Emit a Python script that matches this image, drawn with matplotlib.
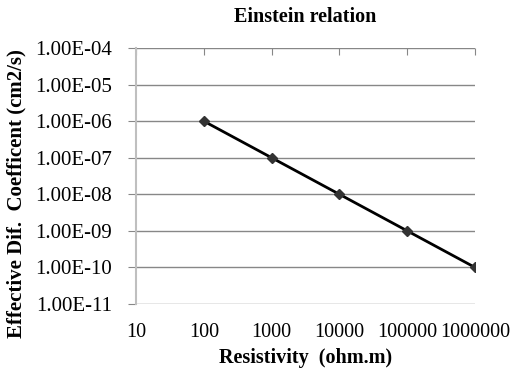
import numpy as np
import matplotlib.pyplot as plt
from matplotlib.ticker import FuncFormatter, FixedLocator, NullLocator

plt.rcParams['font.family'] = ['Liberation Serif', 'DejaVu Serif']

resistivity = [100, 1000, 10000, 100000, 1000000]
diff_coef = [1e-6, 1e-7, 1e-8, 1e-9, 1e-10]

x_ticks = [10, 100, 1000, 10000, 100000, 1000000]
y_ticks = [1e-11, 1e-10, 1e-9, 1e-8, 1e-7, 1e-6, 1e-5, 1e-4]

fig = plt.figure(figsize=(5.2, 3.76), dpi=100)
ax = fig.add_axes([136/520, 1 - 304/376, (475-136)/520, (304-48)/376])

ax.plot(resistivity, diff_coef, color='black', lw=2, marker='D',
        markersize=5.5, markerfacecolor='#333333', markeredgecolor='#333333', zorder=3)

ax.set_xscale('log')
ax.set_yscale('log')
ax.set_xlim(10, 1000000)
ax.set_ylim(1e-11, 1e-4)

ax.xaxis.set_major_locator(FixedLocator(x_ticks))
ax.xaxis.set_minor_locator(NullLocator())
ax.yaxis.set_major_locator(FixedLocator(y_ticks))
ax.yaxis.set_minor_locator(NullLocator())
ax.xaxis.set_major_formatter(FuncFormatter(lambda v, p: '%d' % round(v)))

def sci(v, p):
    e = int(round(np.log10(v)))
    return '1.00E%s%02d' % ('-' if e < 0 else '+', abs(e))
ax.yaxis.set_major_formatter(FuncFormatter(sci))

ax.grid(True, axis='y', color='#878787', lw=1)
ax.set_axisbelow(True)

for s in ['right', 'bottom', 'top']:
    ax.spines[s].set_visible(False)
ax.spines['left'].set_color('#bfbfbf')
ax.spines['left'].set_linewidth(1.5)

ax.tick_params(axis='x', top=True, bottom=False, labeltop=False, labelbottom=True,
               direction='in', length=5, color='#878787', labelsize=14.5, pad=14)
ax.tick_params(axis='y', direction='out', length=6, color='#878787', labelsize=15, pad=11)

ax.set_title('Einstein relation', fontsize=14.5, fontweight='bold', pad=19)
ax.set_xlabel('Resistivity  (ohm.m)', fontsize=14.5, fontweight='bold', labelpad=4)
ax.set_ylabel('Effective Dif.  Coefficent (cm2/s)', fontsize=15, fontweight='bold')
ax.yaxis.set_label_coords(-0.322, 0.43)

fig.savefig('out.png', dpi=100)
